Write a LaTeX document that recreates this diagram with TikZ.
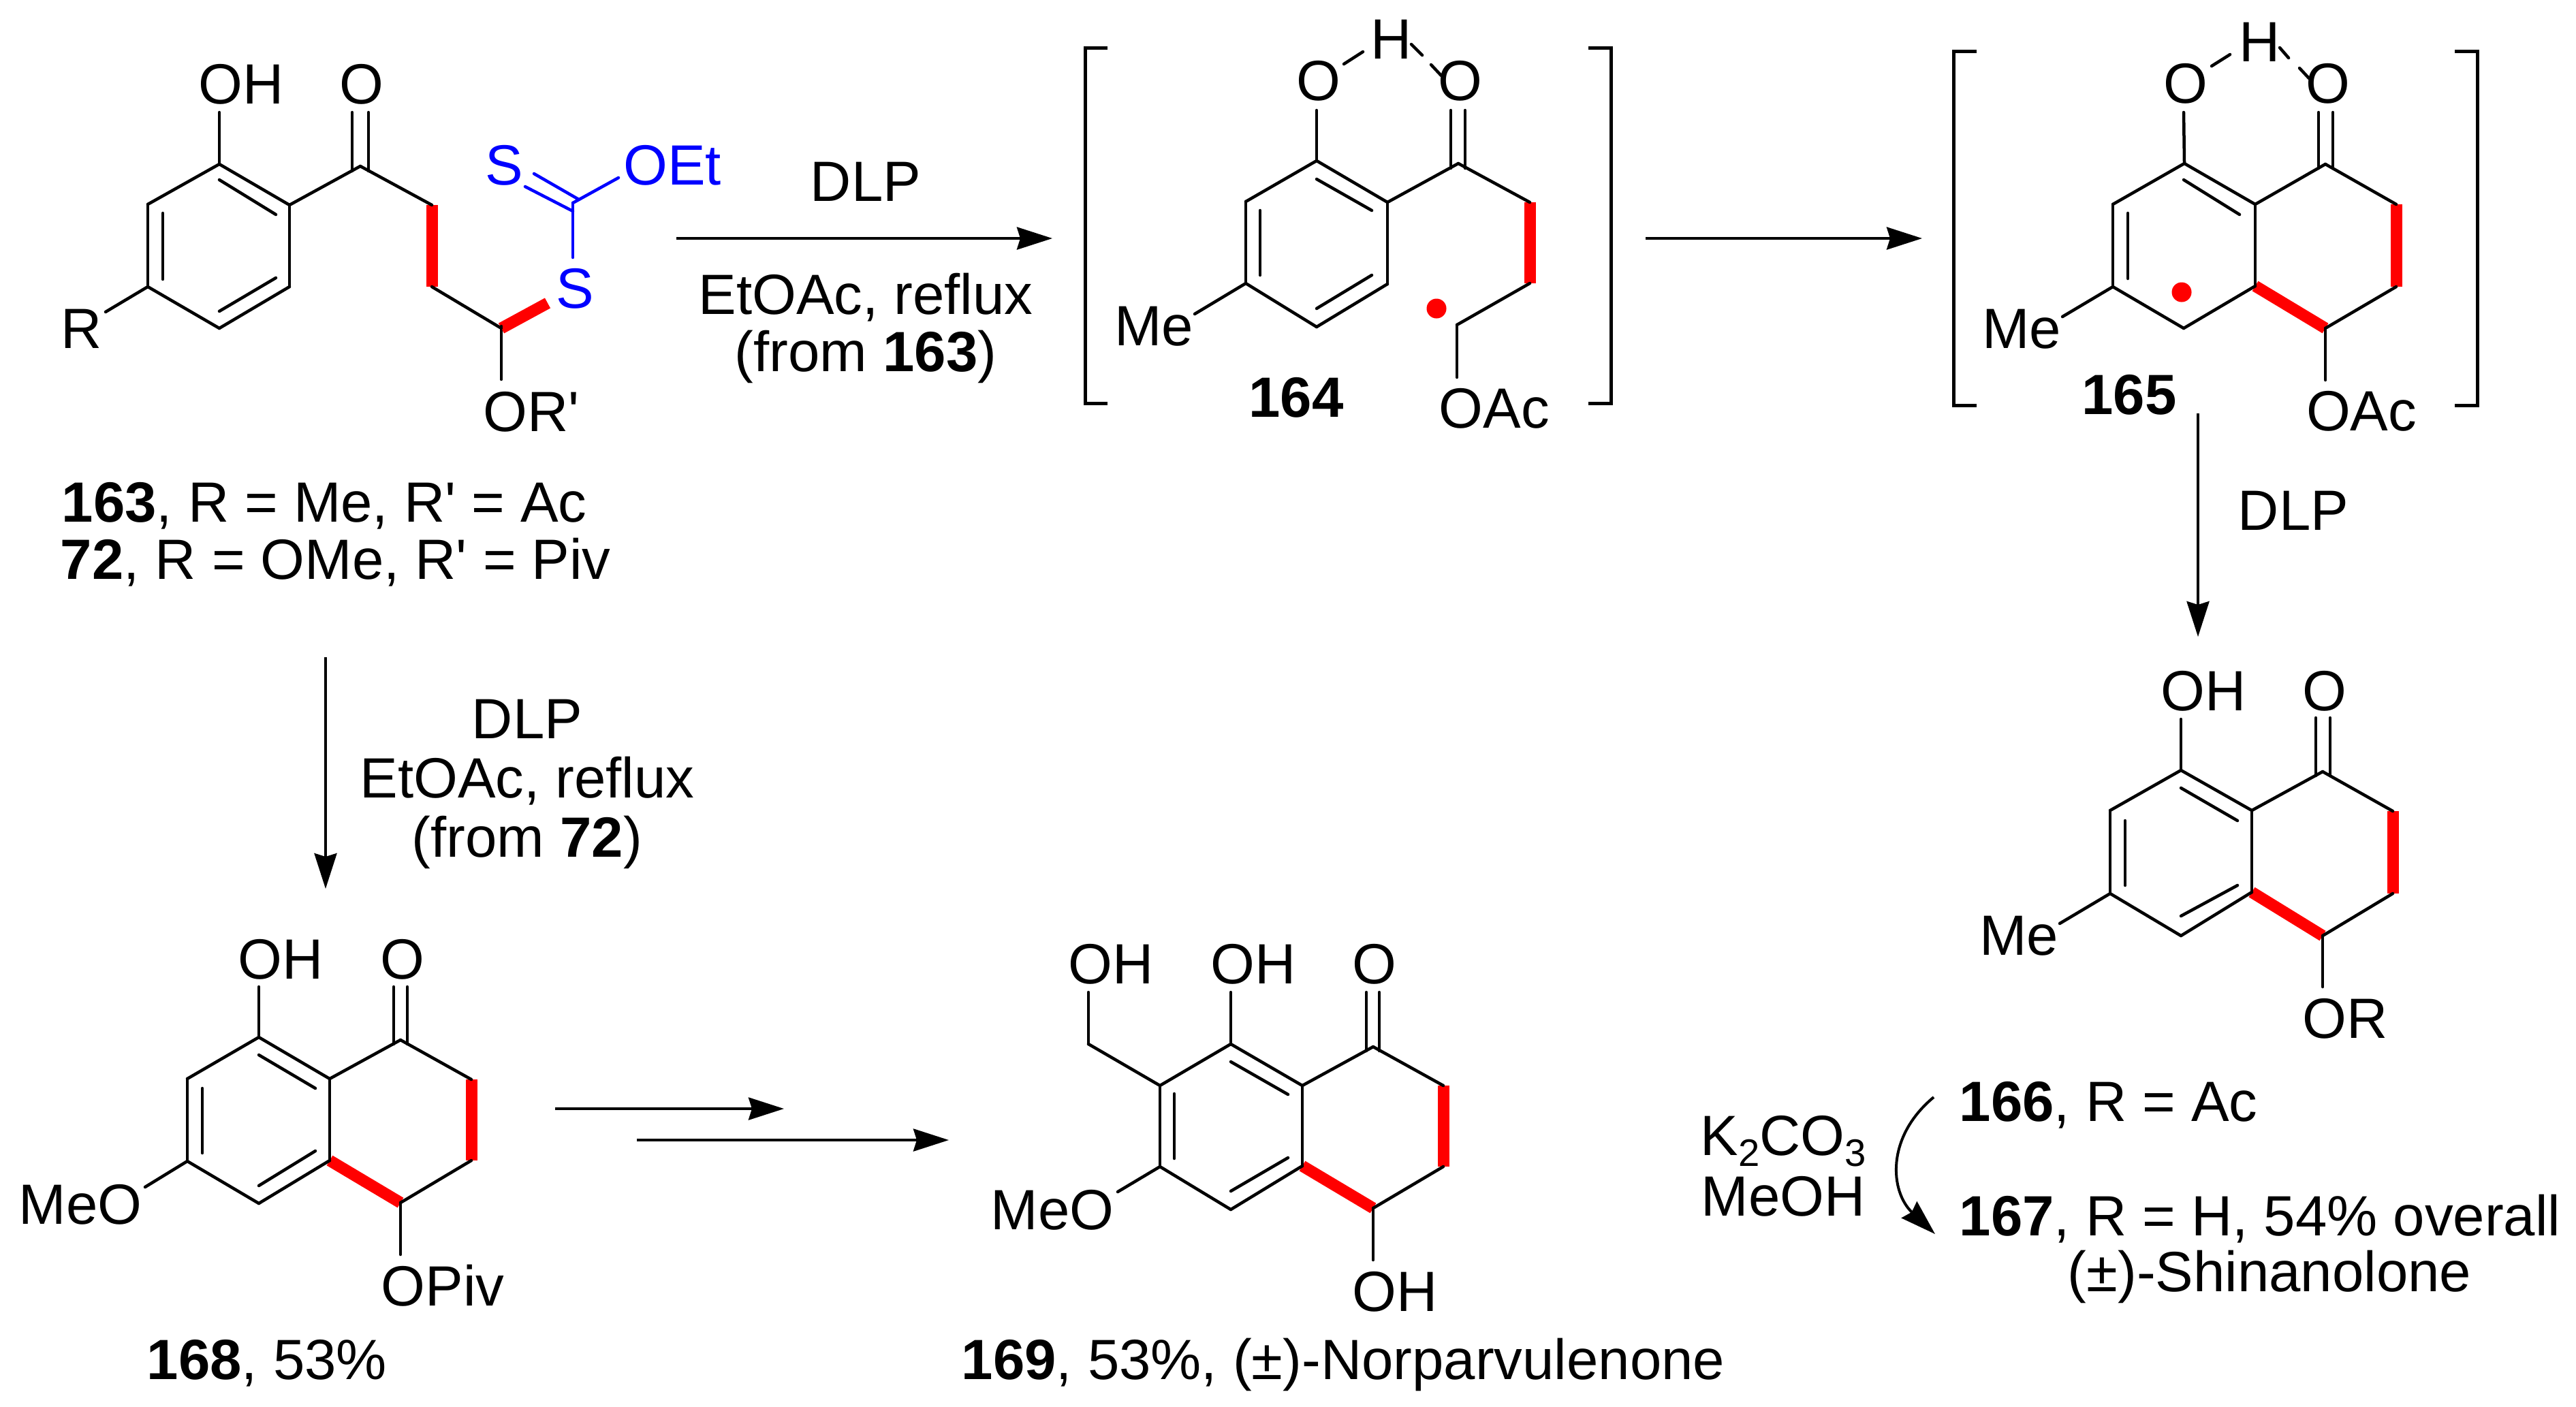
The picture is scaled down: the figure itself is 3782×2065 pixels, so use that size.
\documentclass[tikz,border=0pt]{standalone}
\usepackage{fontspec}
\setmainfont{Liberation Sans}
\usetikzlibrary{arrows.meta}
\definecolor{bondred}{RGB}{255,0,0}
\definecolor{xanblue}{RGB}{0,0,255}
\newcommand{\chemsub}[1]{\raisebox{-0.2em}{\fontsize{16}{16}\selectfont #1}}
\tikzset{
  atom/.style={inner sep=0pt,anchor=base},
  leftlab/.style={inner sep=0pt,anchor=base west},
  bond/.style={line width=0.045cm,line cap=round},
  redbond/.style={line width=0.17cm,draw=bondred},
  xanbond/.style={line width=0.045cm,draw=xanblue,line cap=round},
  rxn/.style={line width=0.04cm,-{Stealth[length=0.52cm,width=0.33cm,inset=0.05cm]}},
  radical/.style={circle,fill=bondred,inner sep=0pt,minimum size=0.29cm},
  brack/.style={line width=0.05cm,line join=miter}
}
\begin{document}
\begin{tikzpicture}[x=0.01cm,y=-0.01cm,every node/.style={font=\fontsize{23.7}{25}\selectfont}]
\useasboundingbox (0,0) rectangle (3782,2065);
% atoms of the six skeletons
\foreach \n/\x/\y in {1/322/241,2/425/301,3/425/421,4/322/482,5/217/421,6/217/300,7/529/244,8/634/301,9/634/421,10/736/482,11/322/165,12/517/165,13/541/165,14/517/251,15/541/251,16/736/557,17/155/458,18/322/264,19/405/315,20/239/313,21/239/410,22/322/457,23/405/408} {\coordinate (a\n) at (\x,\y);}
\foreach \n/\x/\y in {1/1933/236,2/2037/297,3/2037/417,4/1933/480,5/1829/416,6/1829/296,7/2141/240,8/2246/297,9/2246/416,10/2139/477,11/1933/162,12/2130/162,13/2151/162,14/2130/247,15/2151/247,16/2139/554,17/1754/461,18/1933/263,19/2014/309,20/1850/309,21/1850/404,22/1933/453,23/2014/404} {\coordinate (b\n) at (\x,\y);}
\foreach \n/\x/\y in {1/3207/240,2/3311/300,3/3311/420,4/3206/482,5/3102/421,6/3102/300,7/3414/241,8/3518/300,9/3518/421,10/3414/482,11/3206/165,12/3404/165,13/3425/165,14/3404/247,15/3425/247,16/3414/558,17/3028/465,18/3206/264,19/3288/315,20/3124/313,21/3124/409} {\coordinate (c\n) at (\x,\y);}
\foreach \n/\x/\y in {1/3202/1131,2/3306/1190,3/3306/1310,4/3202/1374,5/3098/1312,6/3098/1190,7/3410/1133,8/3513/1191,9/3513/1312,10/3410/1374,11/3202/1056,12/3400/1054,13/3421/1054,14/3400/1139,15/3421/1139,16/3410/1449,17/3024/1356,18/3202/1157,19/3285/1205,20/3120/1205,21/3120/1300,22/3202/1345,23/3285/1300} {\coordinate (d\n) at (\x,\y);}
\foreach \n/\x/\y in {1/380/1523,2/484/1584,3/484/1704,4/380/1767,5/275/1705,6/275/1584,7/588/1527,8/692/1585,9/692/1704,10/588/1766,11/380/1449,12/578/1449,13/598/1449,14/578/1533,15/598/1533,16/588/1842,17/213/1743,18/380/1549,19/463/1598,20/297/1598,21/297/1693,22/380/1741,23/463/1690} {\coordinate (e\n) at (\x,\y);}
\foreach \n/\x/\y in {1/1807/1533,2/1912/1594,3/1912/1712,4/1807/1776,5/1703/1713,6/1703/1594,7/2016/1537,8/2119/1594,9/2119/1713,10/2016/1774,11/1807/1457,12/2006/1457,13/2025/1457,14/2006/1543,15/2025/1543,16/2016/1850,17/1641/1750,18/1807/1559,19/1891/1607,20/1724/1606,21/1724/1701,22/1807/1749,23/1891/1700} {\coordinate (f\n) at (\x,\y);}
% red bonds first, black on top
\foreach \m in {a,b,c,d,e,f} {\draw [redbond] (\m8) -- (\m9);}
\foreach \m in {c,d,e,f} {\draw [redbond] (\m3) -- (\m10);}
\foreach \m in {a,b,c,d,e,f} {
  \foreach \p/\q in {1/2,2/3,3/4,4/5,5/6,6/1,1/11,2/7,7/8,9/10,10/16,5/17,12/14,13/15,18/19,20/21}
    {\draw [bond] (\m\p) -- (\m\q);}
}
\foreach \m in {a,b,d,e,f} {\draw [bond] (\m22) -- (\m23);}
% 163
\node (oh163) [atom] at (354,152) {OH};
\node (o163) [atom] at (531,152) {O};
\node (or163) [atom] at (780,633) {OR\textquotesingle};
\node (r163) [atom] at (120,511) {R};
\node (s163) [atom,text=xanblue] at (844,452) {S};
\node (st163) [atom,text=xanblue] at (740,271) {S};
\node (oet163) [atom,text=xanblue] at (987,271) {OEt};
\coordinate (xc) at (841,298);
\coordinate (xs) at (841,378);
\coordinate (xo) at (908,261);
\coordinate (xa) at (841,310);
\coordinate (xb) at (771,274);
\coordinate (xd) at (850,293);
\coordinate (xe) at (784,255);
\coordinate (ws) at (804,445);
\draw [redbond] (a10) -- (ws);
\draw [bond] (a10) -- +(0,-3);
\draw [xanbond] (xc) -- (xs);
\draw [xanbond] (xc) -- (xo);
\draw [xanbond] (xa) -- (xb);
\draw [xanbond] (xd) -- (xe);
\node (lab163) [leftlab] at (90,766) {\textbf{163}, R = Me, R\textquotesingle{} = Ac};
\node (lab72) [leftlab] at (88,850) {\textbf{72}, R = OMe, R\textquotesingle{} = Piv};
% 164
\node (ol164) [atom] at (1936,147) {O};
\node (h164) [atom] at (2043,86) {H};
\node (or164) [atom] at (2144,147) {O};
\node (oac164) [atom] at (2194,628) {OAc};
\node (me164) [atom] at (1694,507) {Me};
\node (lab164) [atom] at (1903,612) {\textbf{164}};
\node (rad164) [radical] at (2109,453) {};
\coordinate (ph1) at (1973,94);
\coordinate (ph2) at (2001,76);
\coordinate (ph3) at (2072,65);
\coordinate (ph4) at (2088,81);
\coordinate (ph5) at (2101,95);
\coordinate (ph6) at (2116,111);
\foreach \p/\q in {ph1/ph2,ph3/ph4,ph5/ph6} {\draw [bond] (\p) -- (\q);}
\coordinate (bl1) at (1626,70);
\coordinate (bl2) at (1593,70);
\coordinate (bl3) at (1593,592);
\coordinate (bl4) at (1626,592);
\coordinate (br1) at (2332,70);
\coordinate (br2) at (2365,70);
\coordinate (br3) at (2365,592);
\coordinate (br4) at (2332,592);
\draw [brack] (bl1) -- (bl2) -- (bl3) -- (bl4);
\draw [brack] (br1) -- (br2) -- (br3) -- (br4);
% 165
\node (ol165) [atom] at (3209,151) {O};
\node (h165) [atom] at (3318,90) {H};
\node (or165) [atom] at (3418,151) {O};
\node (oac165) [atom] at (3467,632) {OAc};
\node (me165) [atom] at (2968,511) {Me};
\node (lab165) [atom] at (3126,608) {\textbf{165}};
\node (rad165) [radical] at (3203,429) {};
\coordinate (qh1) at (3247,97);
\coordinate (qh2) at (3274,80);
\coordinate (qh3) at (3347,70);
\coordinate (qh4) at (3360,85);
\coordinate (qh5) at (3376,100);
\coordinate (qh6) at (3390,115);
\foreach \p/\q in {qh1/qh2,qh3/qh4,qh5/qh6} {\draw [bond] (\p) -- (\q);}
\coordinate (cl1) at (2902,75);
\coordinate (cl2) at (2868,75);
\coordinate (cl3) at (2868,595);
\coordinate (cl4) at (2902,595);
\coordinate (cr1) at (3604,75);
\coordinate (cr2) at (3637,75);
\coordinate (cr3) at (3637,595);
\coordinate (cr4) at (3604,595);
\draw [brack] (cl1) -- (cl2) -- (cl3) -- (cl4);
\draw [brack] (cr1) -- (cr2) -- (cr3) -- (cr4);
% 166/167
\node (oh166) [atom] at (3235,1043) {OH};
\node (o166) [atom] at (3413,1043) {O};
\node (or166) [atom] at (3443,1524) {OR};
\node (me166) [atom] at (2964,1402) {Me};
\node (lab166) [leftlab] at (2876,1646) {\textbf{166}, R = Ac};
\node (lab167) [leftlab] at (2876,1814) {\textbf{167}, R = H, 54\% overall};
\node (shin) [atom] at (3332,1896) {(±)-Shinanolone};
\node (k2co3) [atom] at (2618,1696) {K\chemsub{2}CO\chemsub{3}};
\node (meoh) [atom] at (2618,1785) {MeOH};
% 168
\node (oh168) [atom] at (412,1437) {OH};
\node (o168) [atom] at (591,1437) {O};
\node (opiv) [atom] at (650,1917) {OPiv};
\node (meo168) [atom] at (118,1797) {MeO};
\node (lab168) [leftlab] at (215,2025) {\textbf{168}, 53\%};
% 169
\node (oha169) [atom] at (1631,1444) {OH};
\node (ohb169) [atom] at (1840,1444) {OH};
\node (o169) [atom] at (2018,1444) {O};
\node (ohc169) [atom] at (2048,1925) {OH};
\node (meo169) [atom] at (1545,1805) {MeO};
\node (lab169) [leftlab] at (1411,2025) {\textbf{169}, 53\%, (±)-Norparvulenone};
\coordinate (ch2a) at (1598,1533);
\coordinate (ch2b) at (1598,1457);
\draw [bond] (f6) -- (ch2a);
\draw [bond] (ch2a) -- (ch2b);
% reaction arrows and conditions
\coordinate (s1) at (993,350);
\coordinate (t1) at (1545,350);
\draw [rxn] (s1) -- (t1);
\node (dlp1) [atom] at (1271,295) {DLP};
\node (sol1) [atom] at (1271,461) {EtOAc, reflux};
\node (from1) [atom] at (1271,545) {(from \textbf{163})};
\coordinate (s2) at (2416,350);
\coordinate (t2) at (2822,350);
\draw [rxn] (s2) -- (t2);
\coordinate (s3) at (3227,607);
\coordinate (t3) at (3227,935);
\draw [rxn] (s3) -- (t3);
\node (dlp3) [atom] at (3367,778) {DLP};
\coordinate (s4) at (478,965);
\coordinate (t4) at (478,1305);
\draw [rxn] (s4) -- (t4);
\node (dlp4) [atom] at (774,1084) {DLP};
\node (sol4) [atom] at (774,1171) {EtOAc, reflux};
\node (from4) [atom] at (774,1258) {(from \textbf{72})};
\coordinate (s5) at (815,1628);
\coordinate (t5) at (1151,1628);
\draw [rxn] (s5) -- (t5);
\coordinate (s6) at (935,1674);
\coordinate (t6) at (1393,1674);
\draw [rxn] (s6) -- (t6);
\coordinate (s7) at (2839,1611);
\coordinate (t7) at (2841,1812);
\draw [rxn] (s7) .. controls (2768,1670) and (2775,1750) .. (t7);
\end{tikzpicture}
\end{document}
